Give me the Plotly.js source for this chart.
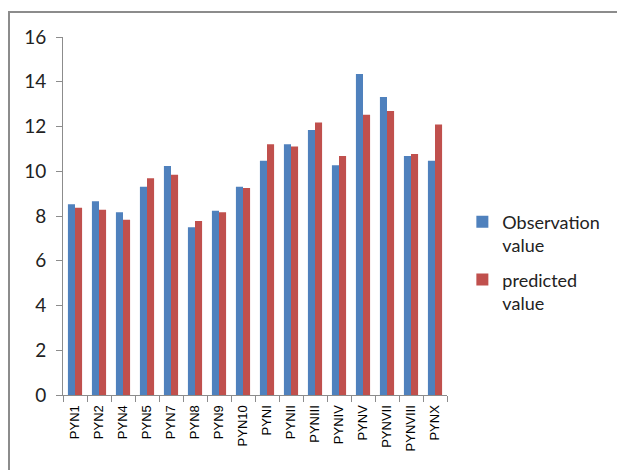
<!DOCTYPE html>
<html>
<head>
<meta charset="utf-8">
<script src="https://cdn.plot.ly/plotly-3.0.1.min.js"></script>
<style>
  html, body { margin: 0; padding: 0; background: #fff; }
  #wrap { position: relative; width: 617px; height: 470px; overflow: hidden; }
  #chart { width: 617px; height: 470px; }
  #frame { position: absolute; left: 8px; top: 11px; width: 700px; height: 600px;
           border-left: 2px solid #8c8c8c; border-top: 2px solid #8c8c8c; pointer-events: none; }
</style>
</head>
<body>
<div id="wrap">
  <div id="chart"></div>
  <div id="frame"></div>
</div>
<script>
const categories = ["PYN1","PYN2","PYN4","PYN5","PYN7","PYN8","PYN9","PYN10","PYNI","PYNII","PYNIII","PYNIV","PYNV","PYNVII","PYNVIII","PYNX"];
const observationValues = [8.53, 8.66, 8.17, 9.31, 10.23, 7.50, 8.23, 9.31, 10.47, 11.21, 11.84, 10.27, 14.35, 13.32, 10.68, 10.47];
const predictedValues   = [8.37, 8.28, 7.83, 9.69, 9.84, 7.78, 8.17, 9.25, 11.21, 11.11, 12.18, 10.68, 12.53, 12.69, 10.77, 12.09];
const yTickValues = [0, 2, 4, 6, 8, 10, 12, 14, 16];

const data = [
  { type: "bar", name: "Observation<br>value", x: categories, y: observationValues,
    marker: { color: "#4F81BD" }, legendgroup: "obs" },
  { type: "bar", name: "predicted<br>value", x: categories, y: predictedValues,
    marker: { color: "#C0504D" }, legendgroup: "pred" }
];

const layout = {
  width: 617, height: 470,
  margin: { l: 63, r: 163, t: 37, b: 75, pad: 0 },
  paper_bgcolor: "#ffffff", plot_bgcolor: "#ffffff",
  barmode: "group", bargap: 0.41, bargroupgap: 0,
  showlegend: true,
  legend: { x: 1.04, xanchor: "left", y: 0.37, yanchor: "middle",
            valign: "top", tracegroupgap: 8,
            font: { family: "Lato, 'Open Sans', sans-serif", size: 18, color: "#222" } },
  xaxis: {
    type: "category", tickangle: -90, ticks: "outside", ticklen: 6, tickcolor: "#8c8c8c",
    tickson: "boundaries", showline: true, linecolor: "#8c8c8c", linewidth: 1,
    showgrid: false, zeroline: false, ticklabelstandoff: 4,
    tickfont: { family: "'Liberation Sans', Arial, sans-serif", size: 13, color: "#000" }
  },
  yaxis: {
    range: [0, 16], tickvals: yTickValues, ticks: "outside", ticklen: 6, tickcolor: "#8c8c8c",
    showline: true, linecolor: "#8c8c8c", linewidth: 1, showgrid: false, zeroline: false,
    ticklabelstandoff: 6,
    tickfont: { family: "Lato, 'Open Sans', sans-serif", size: 19, color: "#222" }
  }
};

Plotly.newPlot("chart", data, layout, { displayModeBar: false, staticPlot: true });
</script>
</body>
</html>
